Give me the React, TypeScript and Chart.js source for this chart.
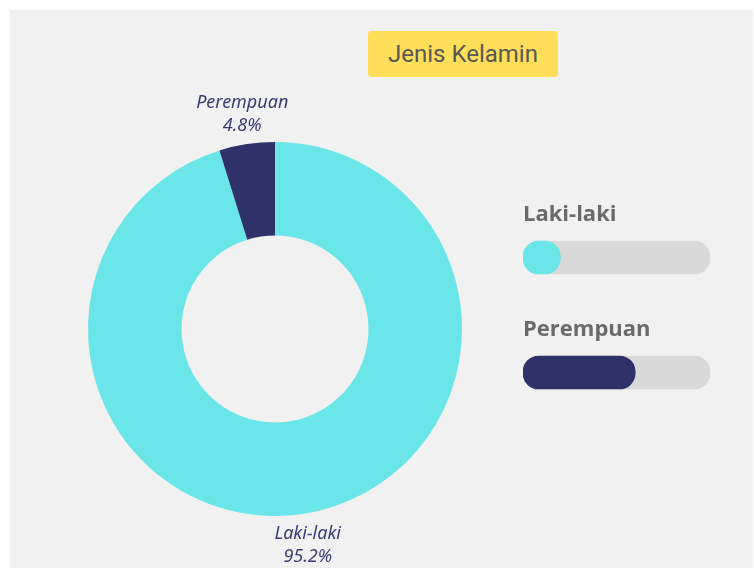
import React, { useEffect, useRef } from "react";
import { Chart, registerables } from "chart.js";

Chart.register(...registerables);

const categories = ["Laki-laki", "Perempuan"];
const shares = [95.2, 4.8];
const shareLabels = ["95.2%", "4.8%"];
const progressValues = [20, 60];
const progressMax = [100, 100];
const title = "Jenis Kelamin";

const CYAN = "#6ae6e9";
const NAVY = "#2f3269";
const TRACK = "#d9d9d9";
const LABEL = "#3b3c72";

const outsideLabels = {
  id: "outsideLabels",
  afterDraw(chart: any) {
    const ctx = chart.ctx;
    const meta = chart.getDatasetMeta(0);
    ctx.save();
    ctx.fillStyle = LABEL;
    ctx.font = "italic 18px 'Noto Sans'";
    ctx.textAlign = "center";
    ctx.textBaseline = "middle";
    meta.data.forEach((arc: any, i: number) => {
      const p = arc.getProps(["startAngle", "endAngle", "outerRadius", "x", "y"], true);
      const a = (p.startAngle + p.endAngle) / 2;
      const r = p.outerRadius + 31;
      const cx = p.x + Math.cos(a) * r;
      const cy = p.y + Math.sin(a) * r;
      ctx.fillText(categories[i], cx, cy - 11);
      ctx.fillText(shareLabels[i], cx, cy + 12);
    });
    ctx.restore();
  },
};

export default function App() {
  const donutRef = useRef<HTMLCanvasElement>(null);
  const barRef = useRef<HTMLCanvasElement>(null);

  useEffect(() => {
    const donut = new Chart(donutRef.current as HTMLCanvasElement, {
      type: "doughnut",
      data: {
        labels: categories,
        datasets: [
          {
            data: shares,
            backgroundColor: [CYAN, NAVY],
            borderWidth: 0,
            hoverOffset: 0,
          },
        ],
      },
      options: {
        responsive: false,
        animation: false,
        cutout: "50%",
        layout: { padding: 63 },
        plugins: { legend: { display: false }, tooltip: { enabled: false } },
      },
      plugins: [outsideLabels],
    });

    const bars = new Chart(barRef.current as HTMLCanvasElement, {
      type: "bar",
      data: {
        labels: categories,
        datasets: [
          {
            data: progressValues,
            backgroundColor: [CYAN, NAVY],
            borderRadius: 16,
            borderSkipped: false,
            barThickness: 33,
            grouped: false,
            order: 1,
          },
          {
            data: progressMax,
            backgroundColor: TRACK,
            borderRadius: 16,
            borderSkipped: false,
            barThickness: 33,
            grouped: false,
            order: 2,
          },
        ],
      },
      options: {
        indexAxis: "y",
        responsive: false,
        animation: false,
        layout: { padding: 0 },
        scales: {
          x: { display: false, min: 0, max: 100 },
          y: { display: false },
        },
        plugins: { legend: { display: false }, tooltip: { enabled: false } },
      },
    });

    return () => {
      donut.destroy();
      bars.destroy();
    };
  }, []);

  const labelStyle: React.CSSProperties = {
    position: "absolute",
    left: 523,
    fontFamily: "'Open Sans', sans-serif",
    fontWeight: 700,
    fontSize: 22,
    color: "#6a6a6a",
    lineHeight: "24px",
    zIndex: 2,
  };

  return (
    <div style={{ position: "absolute", left: 0, top: 0, width: 754, height: 571, background: "#ffffff", overflow: "hidden" }}>
      <div style={{ position: "absolute", left: 10, top: 10, width: 743, height: 558, background: "#f1f1f1" }} />
      <div
        style={{
          position: "absolute",
          left: 368,
          top: 31,
          width: 190,
          height: 46,
          background: "#ffde59",
          borderRadius: 4,
          display: "flex",
          alignItems: "center",
          justifyContent: "center",
          fontFamily: "Roboto, sans-serif",
          fontSize: 24,
          color: "#585858",
        }}
      >
        {title}
      </div>
      <canvas ref={donutRef} width={500} height={500} style={{ position: "absolute", left: 25, top: 79 }} />
      <div style={{ ...labelStyle, top: 200 }}>{categories[0]}</div>
      <div style={{ ...labelStyle, top: 315 }}>{categories[1]}</div>
      <canvas ref={barRef} width={187} height={230} style={{ position: "absolute", left: 523, top: 200 }} />
    </div>
  );
}
